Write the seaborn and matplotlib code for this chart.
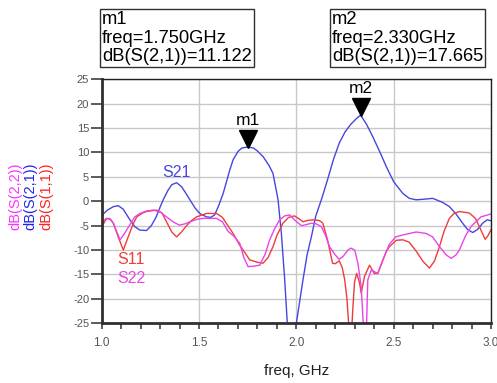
import matplotlib
matplotlib.use("Agg")
import matplotlib.pyplot as plt
import matplotlib.transforms as mtransforms
import seaborn as sns

# ---- dados (freq em GHz, valores em dB) ----
s21_freq = [1.00, 1.03, 1.06, 1.085, 1.11, 1.145, 1.17, 1.196, 1.23, 1.255, 1.28, 1.30, 1.316, 1.34,
            1.36, 1.385, 1.41, 1.43, 1.453, 1.48, 1.504, 1.538, 1.56, 1.58, 1.60, 1.624, 1.658, 1.675,
            1.70, 1.72, 1.75, 1.78, 1.80, 1.83, 1.86, 1.88, 1.906, 1.923, 1.94, 1.955, 1.975, 2.00,
            2.034, 2.055, 2.077, 2.10, 2.13, 2.16, 2.19, 2.22, 2.25, 2.28, 2.31, 2.33, 2.36, 2.393,
            2.43, 2.462, 2.50, 2.547, 2.58, 2.615, 2.65, 2.70, 2.75, 2.786, 2.82, 2.854, 2.88, 2.906,
            2.93, 2.957, 2.98, 3.00]
s21_db = [-2.9, -1.8, -1.1, -0.9, -1.6, -3.8, -5.2, -5.9, -6.0, -5.0, -3.2, -1.2, 0.3, 2.2,
          3.4, 3.8, 3.0, 1.8, 0.3, -1.4, -2.5, -3.2, -3.3, -2.8, -1.0, 1.6, 6.4, 8.5,
          10.2, 10.9, 11.12, 10.9, 10.3, 9.1, 7.3, 5.7, 0.3, -6.6, -16.0, -26.0, -40.0, -25.0,
          -16.1, -11.0, -7.3, -3.0, 0.5, 4.4, 8.5, 11.9, 14.2, 15.8, 17.0, 17.67, 15.8, 13.2,
          10.0, 7.1, 4.0, 1.6, 0.6, 0.3, 0.4, 0.6, -0.2, -1.1, -2.6, -4.5, -5.8, -6.4,
          -5.8, -4.5, -3.8, -4.0]

s11_freq = [1.00, 1.015, 1.026, 1.045, 1.06, 1.085, 1.111, 1.136, 1.16, 1.18, 1.21, 1.23, 1.28, 1.31,
            1.333, 1.36, 1.385, 1.41, 1.436, 1.46, 1.487, 1.538, 1.59, 1.62, 1.64, 1.675, 1.709, 1.735,
            1.76, 1.80, 1.829, 1.855, 1.88, 1.90, 1.931, 1.96, 1.99, 2.01, 2.034, 2.06, 2.10, 2.12,
            2.136, 2.16, 2.186, 2.20, 2.22, 2.235, 2.248, 2.26, 2.27, 2.28, 2.29, 2.299, 2.31, 2.325,
            2.333, 2.35, 2.376, 2.40, 2.418, 2.44, 2.462, 2.478, 2.513, 2.547, 2.58, 2.615, 2.65, 2.684,
            2.71, 2.735, 2.76, 2.786, 2.81, 2.837, 2.888, 2.92, 2.94, 2.97, 2.985, 3.00]
s11_db = [-5.4, -4.2, -3.5, -3.7, -4.5, -7.3, -10.0, -7.3, -4.8, -3.2, -2.4, -2.1, -1.8, -2.4,
          -4.2, -6.3, -7.3, -6.3, -5.0, -4.0, -3.2, -2.5, -2.5, -3.3, -4.5, -6.6, -9.0, -10.5,
          -12.0, -12.5, -12.7, -11.5, -9.3, -7.0, -4.5, -3.3, -3.0, -3.5, -4.2, -3.9, -3.8, -4.0,
          -4.5, -7.9, -12.7, -12.8, -12.2, -13.5, -16.0, -20.0, -26.0, -30.0, -22.0, -16.5, -14.8, -16.8,
          -18.8, -15.4, -13.1, -14.8, -14.8, -12.5, -10.3, -9.3, -8.0, -7.9, -8.4, -10.2, -12.3, -13.7,
          -12.2, -9.3, -6.0, -3.5, -2.5, -2.1, -2.4, -3.5, -5.2, -7.8, -7.0, -5.8]

s22_freq = [1.00, 1.02, 1.04, 1.06, 1.08, 1.094, 1.11, 1.128, 1.145, 1.17, 1.196, 1.23, 1.265, 1.30,
            1.333, 1.37, 1.40, 1.43, 1.453, 1.49, 1.52, 1.59, 1.62, 1.65, 1.68, 1.709, 1.73, 1.752,
            1.78, 1.812, 1.84, 1.863, 1.89, 1.914, 1.94, 1.966, 1.99, 2.026, 2.05, 2.077, 2.10, 2.128,
            2.15, 2.17, 2.20, 2.22, 2.24, 2.265, 2.28, 2.30, 2.316, 2.333, 2.345, 2.35, 2.36, 2.367,
            2.385, 2.40, 2.418, 2.44, 2.462, 2.478, 2.51, 2.547, 2.615, 2.667, 2.70, 2.735, 2.77, 2.795,
            2.82, 2.837, 2.87, 2.897, 2.948, 3.00]
s22_db = [-4.6, -3.6, -3.5, -4.5, -6.5, -7.9, -7.0, -5.9, -4.8, -3.2, -2.5, -2.0, -1.8, -2.2,
          -3.2, -4.3, -4.9, -4.6, -4.2, -3.7, -3.5, -3.5, -4.2, -6.2, -7.2, -8.6, -11.5, -13.4,
          -13.3, -13.1, -10.8, -7.9, -5.5, -3.8, -3.0, -2.8, -3.8, -5.0, -4.8, -4.5, -4.6, -5.2,
          -7.0, -9.3, -11.0, -11.9, -11.3, -10.0, -9.6, -10.0, -12.7, -17.5, -26.0, -32.0, -26.0, -16.1,
          -14.1, -14.4, -14.8, -12.5, -10.3, -8.8, -7.3, -6.9, -6.3, -6.6, -7.3, -9.3, -11.0, -11.7,
          -11.0, -10.0, -7.0, -5.2, -3.2, -2.6]

marcadores = ["m1", "m2"]
marcador_freq = [1.750, 2.330]
marcador_db = [11.122, 17.665]

y_ticks = [25, 20, 15, 10, 5, 0, -5, -10, -15, -20, -25]
x_ticks = [1.0, 1.5, 2.0, 2.5, 3.0]

cor_s21 = "#4646e0"
cor_s11 = "#ee3c3c"
cor_s22 = "#e845e8"

sns.set_style("white")
plt.rcParams['font.family'] = ['Liberation Sans', 'DejaVu Sans']

fig = plt.figure(figsize=(4.97, 3.83), dpi=100)
ax = fig.add_axes([0.2046, 0.156, 0.7834, 0.637])

sns.lineplot(x=s21_freq, y=s21_db, ax=ax, color=cor_s21, lw=1.0, sort=False, estimator=None)
sns.lineplot(x=s11_freq, y=s11_db, ax=ax, color=cor_s11, lw=1.0, sort=False, estimator=None)
sns.lineplot(x=s22_freq, y=s22_db, ax=ax, color=cor_s22, lw=1.0, sort=False, estimator=None)

ax.set_xlim(1.0, 3.0)
ax.set_ylim(-25, 25)
ax.set_yticks(y_ticks)
ax.set_yticklabels([str(v) for v in y_ticks])
ax.set_xticks(x_ticks)
ax.set_xticklabels([f"{v:.1f}" for v in x_ticks])
ax.set_xticks([1.0 + 0.1 * i for i in range(21)], minor=True)
ax.grid(True, color="#c8c8c8", lw=1.0)
ax.tick_params(axis='y', direction='out', length=8, width=1.2, color="#404040",
               labelsize=8, labelcolor="#555555", left=True, pad=1)
ax.tick_params(axis='x', which='both', direction='out', length=4, width=1.2, color="#404040",
               labelsize=8.5, labelcolor="#555555", bottom=True, pad=6)
for lado in ['left', 'bottom']:
    ax.spines[lado].set_linewidth(2.0)
    ax.spines[lado].set_color("#303030")
for lado in ['top', 'right']:
    ax.spines[lado].set_linewidth(1.0)
    ax.spines[lado].set_color("#202020")

ax.set_xlabel("freq, GHz", fontsize=11, color="#202020", labelpad=11)
ax.set_ylabel("")

# marcadores m1 / m2
for nome, f, d in zip(marcadores, marcador_freq, marcador_db):
    desloc = mtransforms.offset_copy(ax.transData, fig=fig, x=0, y=8, units='dots')
    ax.plot([f], [d], marker='v', color='black', markersize=13, transform=desloc, clip_on=False)
    ax.annotate(nome, (f, d), xytext=(0, 13.5), textcoords='offset points', ha='center',
                va='bottom', fontsize=12.5, color='black')

# rótulos das curvas
ax.text(1.385, 4.4, "S21", color=cor_s21, fontsize=11.5, ha='center', va='bottom')
ax.text(1.08, -11.9, "S11", color=cor_s11, fontsize=11.5, ha='left', va='center')
ax.text(1.08, -15.9, "S22", color=cor_s22, fontsize=11.5, ha='left', va='center')

# rótulo do eixo y em três cores
fig.text(15 / 497, 1 - 196 / 383, "dB(S(2,2))", rotation=90, color="#ff33ff", fontsize=10.5,
         ha='center', va='center')
fig.text(30 / 497, 1 - 196 / 383, "dB(S(2,1))", rotation=90, color="#2222ee", fontsize=10.5,
         ha='center', va='center')
fig.text(46 / 497, 1 - 196 / 383, "dB(S(1,1))", rotation=90, color="#ff2222", fontsize=10.5,
         ha='center', va='center')

# caixas de leitura dos marcadores
caixas = [(102 / 497, "m1\nfreq=1.750GHz\ndB(S(2,1))=11.122"),
          (332 / 497, "m2\nfreq=2.330GHz\ndB(S(2,1))=17.665")]
for xpos, txt in caixas:
    fig.text(xpos, 1 - 11 / 383, txt, ha='left', va='top', fontsize=13.2, linespacing=1.12,
             color='black',
             bbox=dict(boxstyle='square,pad=0.12', fc='white', ec='#303030', lw=1.0))

fig.savefig("out.png", dpi=100)
